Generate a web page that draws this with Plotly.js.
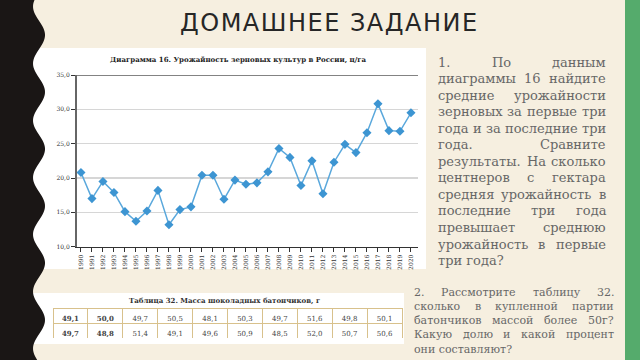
<!DOCTYPE html>
<html>
<head>
<meta charset="utf-8">
<script src="https://cdn.plot.ly/plotly-3.0.1.min.js"></script>
<style>
html,body{margin:0;padding:0;background:#f6efe0;}
#chart{width:640px;height:360px;}
text[data-unformatted="ДОМАШНЕЕ ЗАДАНИЕ"]{letter-spacing:1.5px;}
</style>
</head>
<body>
<div id="chart"></div>
<script>
// ---- data ----
const years = [1990,1991,1992,1993,1994,1995,1996,1997,1998,1999,2000,2001,2002,2003,2004,2005,2006,2007,2008,2009,2010,2011,2012,2013,2014,2015,2016,2017,2018,2019,2020];
const yields = [20.8,17.0,19.5,17.9,15.1,13.7,15.2,18.2,13.2,15.4,15.8,20.4,20.4,16.9,19.7,19.1,19.3,20.9,24.3,23.0,18.9,22.5,17.7,22.3,24.9,23.7,26.6,30.8,26.9,26.8,29.5];
const yTicks = [10,15,20,25,30,35];
const tableRow1 = [49.1,50.0,49.7,50.5,48.1,50.3,49.7,51.6,49.8,50.1];
const tableRow2 = [49.7,48.8,51.4,49.1,49.6,50.9,48.5,52.0,50.7,50.6];
const slideTitle = "ДОМАШНЕЕ ЗАДАНИЕ";
const chartTitle = "Диаграмма 16. Урожайность зерновых культур в России, ц/га";
const tableTitle = "Таблица 32. Масса шоколадных батончиков, г";
const para1 = ["1. По данным","диаграммы 16 найдите","средние урожайности","зерновых за первые три","года и за последние три","года. Сравните","результаты. На сколько","центнеров с гектара","средняя урожайность в","последние три года","превышает среднюю","урожайность в первые","три года?"];
const para2 = ["2. Рассмотрите таблицу 32.","сколько в купленной партии","батончиков массой более 50г?","Какую долю и какой процент","они составляют?"];

// ---- helpers ----
const W = 640, H = 360;
const px = x => x / W, py = y => 1 - y / H;
const fmt = v => v.toFixed(1).replace('.', ',');
const cv = document.createElement('canvas').getContext('2d');
const SERIF = '"DejaVu Serif", "Liberation Serif", serif';
function tw(t, size){ cv.font = size + 'px ' + SERIF; return cv.measureText(t).width; }

const annotations = [];
const TXT = '#676767';
function justify(lines, left, right, top, step, size){
  lines.forEach((ln, i) => {
    const y = top + i * step;
    const words = ln.split(' ');
    const last = i === lines.length - 1;
    if (last || words.length === 1) {
      annotations.push({text: ln, x: px(left), y: py(y), xref:'paper', yref:'paper', xanchor:'left', yanchor:'middle', showarrow:false, font:{family:SERIF, size:size, color:TXT}});
      return;
    }
    const ws = words.map(w => tw(w, size));
    const gap = (right - left - ws.reduce((a,b)=>a+b,0)) / (words.length - 1);
    let x = left;
    words.forEach((w, k) => {
      annotations.push({text: w, x: px(x), y: py(y), xref:'paper', yref:'paper', xanchor:'left', yanchor:'middle', showarrow:false, font:{family:SERIF, size:size, color:TXT}});
      x += ws[k] + gap;
    });
  });
}
justify(para1, 436, 604, 62, 16.55, 13);
justify(para2, 412, 612, 292, 14.3, 11);

annotations.push({text: slideTitle, x: px(329), y: py(23), xref:'paper', yref:'paper', showarrow:false, xanchor:'center', yanchor:'middle', font:{family:'DejaVu Sans', size:24, color:'#262626'}});
annotations.push({text: '<b>' + chartTitle + '</b>', x: px(238), y: py(60), xref:'paper', yref:'paper', showarrow:false, xanchor:'center', yanchor:'middle', font:{family:SERIF, size:7, color:'#222'}});
annotations.push({text: '<b>' + tableTitle + '</b>', x: px(224), y: py(300), xref:'paper', yref:'paper', showarrow:false, xanchor:'center', yanchor:'middle', font:{family:SERIF, size:7, color:'#333'}});

// black wavy band on the left
let pts = [];
for (let y = 0; y <= H; y += 2) {
  const x = 39 + 6 * Math.cos(2 * Math.PI * (y - 35) / 57);
  pts.push(px(x).toFixed(4) + ',' + py(y).toFixed(4));
}
const wavePath = 'M0,1 L' + pts.join(' L') + ' L0,0 Z';

const shapes = [
  {type:'rect', xref:'paper', yref:'paper', x0:px(20), x1:px(426), y0:py(269), y1:py(48), fillcolor:'#ffffff', line:{width:0}, layer:'below'},
  {type:'rect', xref:'paper', yref:'paper', x0:px(20), x1:px(404), y0:py(344), y1:py(293), fillcolor:'#ffffff', line:{width:0}, layer:'below'},
  {type:'path', xref:'paper', yref:'paper', path: wavePath, fillcolor:'#1a1615', line:{width:0}, layer:'below'},
  {type:'rect', xref:'paper', yref:'paper', x0:px(625), x1:1, y0:0, y1:1, fillcolor:'#55ab6c', line:{width:0}, layer:'below'},
  {type:'line', xref:'x domain', yref:'y', x0:0, x1:1, y0:35, y1:35, line:{color:'#5a5a5a', width:1.5}, layer:'above'}
];

const traces = [
  {type:'scatter', mode:'lines+markers', x: years, y: yields, xaxis:'x', yaxis:'y',
   line:{color:'#5aa8dc', width:1.5}, marker:{symbol:'diamond', size:7, color:'#3d95d2'}, hoverinfo:'skip'},
  {type:'table', domain:{x:[px(53), px(402)], y:[py(338), py(308)]},
   columnwidth: tableRow1.map(() => 1),
   header:{values: tableRow1.map(v => [fmt(v)]), height:15, align:'center', fill:{color:'#ffffff'}, line:{color:'#d8c18c', width:1},
     font:{family:SERIF, size:7, color:'#444', weight: tableRow1.map((v,i) => i < 2 ? 700 : 400)}},
   cells:{values: tableRow2.map(v => [fmt(v)]), height:15, align:'center', fill:{color:'#ffffff'}, line:{color:'#d8c18c', width:1},
     font:{family:SERIF, size:7, color:'#444', weight: tableRow2.map((v,i) => i < 2 ? 700 : 400)}}}
];

const layout = {
  width: W, height: H, margin:{l:0, r:0, t:0, b:0}, showlegend:false,
  paper_bgcolor:'#f6efe0', plot_bgcolor:'rgba(0,0,0,0)', separators:', ',
  xaxis:{domain:[px(77), px(418)], range:[1989.64, 2020.64], tickvals: years, ticktext: years.map(String), tickangle:-90,
    ticks:'outside', ticklen:4, tickcolor:'#333', showline:true, linecolor:'#333', linewidth:1.5, showgrid:false, zeroline:false,
    tickfont:{family:SERIF, size:6, color:'#333'}, anchor:'y', fixedrange:true},
  yaxis:{domain:[py(246.7), py(75)], range:[10,35], tickvals: yTicks, tickformat:'.1f', showgrid:true, gridcolor:'#d6d6d6', gridwidth:1.5,
    showline:true, linecolor:'#666', linewidth:2, ticks:'outside', ticklen:4, tickcolor:'#333', zeroline:false,
    tickfont:{family:SERIF, size:6, color:'#333'}, anchor:'x', fixedrange:true},
  yaxis2:{overlaying:'y', range:[10,35], tickvals:[30], showgrid:true, gridcolor:'#9a9a9a', gridwidth:2.5, showticklabels:false,
    showline:false, ticks:'', zeroline:false, anchor:'x', fixedrange:true},
  shapes: shapes, annotations: annotations
};
Plotly.newPlot('chart', traces, layout, {staticPlot:true, displayModeBar:false});
</script>
</body>
</html>
